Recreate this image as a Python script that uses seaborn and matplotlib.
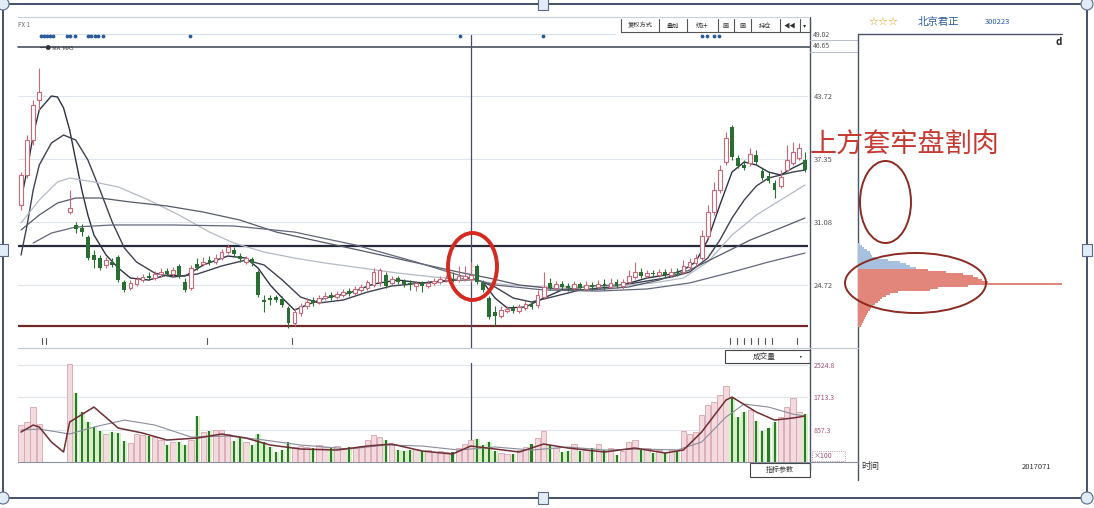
import numpy as np
import pandas as pd
import matplotlib
matplotlib.use("Agg")
import matplotlib.pyplot as plt
from matplotlib.patches import Ellipse, Rectangle
import seaborn as sns

nan = np.nan

# ---- daily candles (price) ----
opens = [32.76, 35.77, 39.29, 43.31, nan, nan, nan, nan, 32.05, 30.75,
         30.45, 29.54, 27.73, 27.43, 26.73, 27.03, 27.53, 25.02, 24.42, 24.82,
         25.22, 25.62, 25.42, 25.82, 26.12, 25.82, 26.63, 25.02, 24.42, 26.83,
         26.83, 27.23, 27.03, 27.43, 28.03, 28.23, 27.63, 27.03, 27.33, 26.02,
         23.21, 23.41, 23.51, 23.31, 22.41, 20.90, 21.90, 22.61, 23.21, 23.01,
         23.41, 23.71, 23.51, 23.71, 24.11, 23.91, 24.22, 24.42, 24.72, 25.02,
         25.72, 24.92, 25.42, 25.12, 24.92, 24.62, 24.92, 24.62, 24.92, 25.02,
         25.22, 25.32, 25.22, 25.32, 25.32, 26.63, 24.92, 23.41, 22.00, 21.60,
         22.10, 22.41, 22.10, 22.41, 22.81, 22.71, 23.51, 24.92, 24.42, 24.82,
         24.62, 24.42, 24.82, 24.32, 24.72, 24.52, 24.82, 24.52, 25.02, 24.62,
         25.02, 25.52, 26.02, 25.62, 25.92, 25.72, 26.02, 25.72, 26.02, 26.02,
         26.53, 26.93, 27.43, 29.64, 32.05, 34.26, 37.08, 40.60, 37.48, 36.78,
         36.98, 37.78, 36.17, 35.67, 34.97, 34.67, 36.27, 36.98, 37.48, 37.28]
closes = [35.77, 39.29, 42.81, 44.11, nan, nan, nan, nan, 32.46, 30.35,
          30.04, 27.43, 27.23, 26.43, 27.23, 26.73, 25.22, 24.22, 24.92, 25.32,
          25.52, 25.42, 25.82, 26.02, 25.82, 26.22, 25.62, 24.22, 26.43, 26.43,
          27.03, 26.93, 27.43, 28.03, 28.54, 27.83, 27.33, 27.43, 26.93, 23.71,
          23.01, 23.21, 23.21, 22.71, 20.90, 22.00, 22.61, 23.01, 22.91, 23.41,
          23.61, 23.41, 23.81, 24.01, 23.81, 24.32, 24.52, 25.02, 26.02, 26.22,
          24.62, 25.32, 25.02, 24.82, 24.72, 24.92, 24.62, 24.92, 25.12, 25.32,
          25.42, 25.22, 25.62, 25.62, 25.72, 25.02, 24.22, 21.50, 21.60, 22.20,
          22.31, 22.10, 22.51, 22.81, 22.51, 23.71, 24.52, 24.42, 24.82, 24.52,
          24.42, 24.82, 24.42, 24.72, 24.52, 24.82, 24.62, 24.92, 24.62, 25.02,
          25.62, 26.02, 25.62, 25.92, 25.82, 26.02, 25.72, 26.02, 25.92, 26.63,
          27.03, 27.43, 29.64, 32.05, 34.26, 36.27, 39.49, 37.58, 36.68, 36.48,
          37.88, 37.08, 35.47, 35.17, 34.26, 35.57, 37.28, 38.08, 38.49, 36.27]
highs = [36.07, 39.79, 43.31, 46.53, nan, nan, nan, nan, 34.26, 31.05,
         30.85, 29.74, 28.23, 27.73, 27.53, 27.43, 27.73, 25.22, 25.22, 25.62,
         25.82, 26.02, 26.12, 26.43, 26.43, 26.53, 26.83, 25.42, 26.73, 27.43,
         27.53, 27.63, 27.83, 28.33, 28.84, 28.54, 27.93, 27.63, 27.53, 26.22,
         23.71, 23.71, 23.71, 23.61, 22.61, 22.41, 22.91, 23.41, 23.51, 23.71,
         24.01, 24.01, 24.11, 24.32, 24.42, 24.62, 24.82, 25.22, 26.43, 26.43,
         26.02, 25.62, 25.62, 25.32, 25.22, 25.12, 25.12, 25.22, 25.42, 25.62,
         25.72, 26.02, 26.63, 26.63, 27.03, 26.83, 25.22, 23.61, 22.61, 22.61,
         22.61, 22.71, 22.81, 23.11, 23.11, 24.22, 26.02, 25.42, 25.12, 25.12,
         24.92, 25.12, 25.02, 25.12, 25.02, 25.22, 25.32, 25.42, 25.32, 25.32,
         26.22, 27.03, 26.43, 26.22, 26.22, 26.32, 26.32, 26.43, 26.43, 27.23,
         27.43, 27.83, 30.25, 32.76, 35.07, 36.78, 40.09, 40.80, 37.78, 37.28,
         38.49, 38.29, 36.48, 36.07, 35.27, 36.27, 38.79, 39.09, 38.99, 38.08]
lows = [32.25, 35.47, 38.79, 42.31, nan, nan, nan, nan, 31.85, 29.94,
        29.64, 27.23, 26.43, 26.22, 26.43, 26.53, 25.02, 24.01, 24.22, 24.62,
        25.02, 25.22, 25.22, 25.52, 25.62, 25.62, 25.42, 24.01, 24.22, 26.22,
        26.63, 26.73, 26.83, 27.23, 27.83, 27.63, 27.03, 26.83, 26.63, 23.51,
        22.00, 22.71, 23.01, 22.51, 20.40, 20.60, 21.60, 22.31, 22.61, 22.81,
        23.21, 23.21, 23.31, 23.51, 23.61, 23.71, 24.01, 24.22, 24.52, 24.62,
        24.42, 24.72, 24.82, 24.52, 24.22, 24.11, 24.01, 24.42, 24.72, 24.82,
        25.02, 25.02, 25.02, 25.12, 25.02, 24.82, 24.01, 21.30, 20.60, 21.40,
        21.90, 21.90, 21.90, 22.20, 22.31, 22.41, 23.31, 24.22, 24.22, 24.32,
        24.11, 24.22, 24.22, 24.11, 24.22, 24.32, 24.22, 24.32, 24.42, 24.32,
        24.82, 25.32, 25.42, 25.42, 25.52, 25.52, 25.52, 25.52, 25.62, 25.82,
        26.22, 26.63, 27.23, 29.44, 31.75, 33.96, 36.78, 37.28, 36.48, 36.27,
        36.68, 36.88, 35.27, 34.97, 33.46, 34.47, 36.07, 36.78, 37.28, 36.07]
volumes = [962, 1040, 1430, 988, 0, 0, 0, 0, 2548, 1794,
           1300, 1040, 910, 806, 728, 780, 754, 546, 494, 728,
           702, 676, 650, 572, 442, 520, 520, 442, 572, 1196,
           780, 806, 832, 832, 728, 546, 624, 520, 442, 728,
           520, 390, 260, 312, 520, 390, 416, 390, 364, 442,
           390, 364, 416, 338, 390, 364, 416, 572, 702, 650,
           572, 468, 312, 286, 312, 338, 286, 312, 260, 286,
           260, 260, 364, 468, 572, 598, 442, 520, 286, 234,
           208, 208, 312, 390, 468, 624, 806, 442, 364, 260,
           286, 468, 286, 312, 364, 468, 312, 364, 182, 286,
           520, 572, 312, 364, 234, 312, 234, 338, 286, 806,
           728, 780, 1222, 1482, 1560, 1742, 1976, 1690, 1170, 1300,
           1352, 1066, 806, 884, 1040, 1170, 1430, 1664, 1300, 1248]

# ---- moving averages (day index, value) ----
ma_a_day = [0, 1, 2, 3, 5, 6, 7, 8, 9, 10, 11, 12, 14, 16, 18, 21, 24, 27, 30, 34, 37, 39, 41, 43,
            45, 47, 50, 54, 58, 62, 66, 70, 74, 76, 78, 80, 83, 86, 89, 94, 99, 103, 107, 109,
            111, 113, 115, 117, 119, 121, 123, 125, 127, 129]
ma_a = [33.26, 36.27, 39.79, 42.31, 43.71, 43.61, 42.51, 40.30, 37.28, 34.26, 31.75, 29.74,
        27.73, 26.43, 25.42, 25.22, 25.72, 25.62, 26.73, 27.63, 27.43, 26.43, 24.72, 23.41,
        22.20, 22.71, 23.41, 23.91, 24.82, 25.22, 24.92, 25.12, 25.42, 25.02, 23.41, 22.41,
        22.51, 23.41, 24.22, 24.62, 24.72, 25.42, 25.82, 26.22, 27.03, 29.24, 32.76, 36.07,
        37.08, 36.78, 36.07, 35.77, 36.48, 37.08]
ma_b_day = [0, 1, 2, 3, 5, 7, 9, 11, 13, 15, 17, 19, 22, 25, 29, 33, 37, 40, 43, 46, 49, 53, 57,
            61, 66, 71, 75, 78, 81, 84, 88, 92, 97, 102, 107, 110, 113, 115, 117, 119, 121, 123,
            125, 127, 129]
ma_b = [27.73, 30.75, 34.26, 36.78, 38.99, 39.79, 39.29, 37.28, 34.26, 31.05, 28.44, 27.03,
        25.92, 25.52, 25.82, 26.63, 27.23, 26.73, 25.22, 23.51, 22.91, 23.21, 24.01, 24.62,
        24.92, 25.22, 25.22, 24.52, 23.41, 23.01, 23.61, 24.22, 24.52, 25.02, 25.52, 26.02,
        27.43, 29.24, 31.45, 33.26, 34.67, 35.47, 35.77, 36.07, 36.27]
ma_c_day = [0, 3, 6, 8, 12, 16, 21, 26, 31, 35, 40, 45, 50, 56, 62, 68, 74, 80, 86, 92, 98,
            104, 109, 113, 117, 121, 125, 129]
ma_c = [30.95, 33.26, 35.07, 35.47, 35.07, 34.57, 33.26, 31.75, 30.04, 28.94, 28.03, 27.43,
        26.93, 26.43, 25.92, 25.52, 25.22, 24.72, 24.52, 24.52, 24.62, 24.92, 25.42, 27.03,
        29.74, 31.75, 33.26, 34.77]
ma_d_day = [0, 3, 6, 9, 13, 18, 24, 30, 36, 42, 48, 54, 60, 66, 72, 77, 82, 88, 94, 100, 105,
            110, 115, 120, 125, 129]
ma_d = [30.25, 31.75, 32.96, 33.46, 33.46, 33.06, 32.66, 32.05, 31.25, 30.04, 29.24, 28.44,
        27.63, 26.83, 26.02, 25.42, 24.72, 24.32, 24.22, 24.52, 25.22, 26.22, 27.73, 29.24,
        30.45, 31.45]
ma_e_day = [2, 5, 9, 15, 25, 35, 45, 55, 65, 72, 78, 86, 95, 103, 110, 117, 123, 129]
ma_e = [28.94, 29.94, 30.55, 30.75, 30.75, 30.65, 30.04, 28.74, 27.03, 25.72, 24.72, 24.22,
        24.11, 24.32, 24.92, 26.02, 27.03, 27.93]

# volume moving averages
vma5_day = [0, 2, 3, 5, 7, 8, 12, 16, 20, 24, 29, 33, 37, 41, 46, 52, 57, 61, 66, 71, 74, 78,
            82, 86, 90, 96, 101, 106, 109, 112, 116, 117, 121, 124, 127, 129]
vma5 = [780, 962, 910, 520, 260, 1040, 1430, 884, 754, 572, 624, 728, 624, 442, 338, 312, 416,
        468, 286, 208, 416, 338, 260, 468, 364, 260, 364, 234, 312, 780, 1612, 1690, 1300,
        1092, 1144, 1196]
vma10_day = [0, 3, 8, 12, 17, 22, 28, 34, 40, 46, 54, 60, 66, 72, 78, 84, 90, 96, 102, 108,
             112, 116, 119, 123, 127, 129]
vma10 = [832, 858, 728, 910, 1092, 962, 650, 676, 572, 442, 338, 442, 416, 312, 390, 312, 390,
         312, 338, 312, 520, 1170, 1508, 1430, 1248, 1196]

# chip distribution at the cursor day
chip_price = [28.8, 28.6, 28.4, 28.2, 28.0, 27.8, 27.6, 27.4, 27.2, 27.0, 26.8, 26.6, 26.4,
              26.2, 26.0, 25.8, 25.6, 25.4, 25.2, 25.0, 24.8, 24.6, 24.4, 24.2, 24.0, 23.8,
              23.6, 23.4, 23.2, 23.0, 22.8, 22.6, 22.4, 22.2, 22.0, 21.8, 21.6, 21.4, 21.2,
              21.0, 20.8, 20.6]
chip_amount = [2, 4, 6, 9, 12, 13, 14, 18, 30, 42, 48, 52, 58,
               70, 88, 105, 115, 120, 124, 130, 204, 110, 80, 72, 40, 32,
               28, 24, 22, 20, 17, 15, 13, 12, 10, 9, 8, 7, 6,
               5, 4, 3]

price_ticks = [24.72, 31.08, 37.35, 43.72]
vol_ticks = [833, 1692, 2524.8]
vol_labels = ["857.3", "1713.3", "2524.8"]
resist_line = 28.64
support_line = 20.60
cursor_day = 74
cost_split = 26.3

# ---------------------------------------------------------------
sns.set_theme(style="white")
plt.rcParams['font.family'] = ['Noto Sans CJK SC', 'DejaVu Sans']

W, H = 1094, 508
fig = plt.figure(figsize=(W / 100, H / 100), dpi=100, facecolor="white")


def box(x0, y0, x1, y1):
    return [x0 / W, 1 - y1 / H, (x1 - x0) / W, (y1 - y0) / H]


def pix_axes(z):
    a = fig.add_axes([0, 0, 1, 1], zorder=z)
    a.set_xlim(0, W)
    a.set_ylim(H, 0)
    a.axis("off")
    a.patch.set_alpha(0)
    return a


UP = "#c9687a"
DN = "#2a6e34"
LINE = "#4a5468"
GRIDC = "#dfe5ec"

under = pix_axes(0)
# outer frame with handles
under.add_patch(Rectangle((3, 4), 1084, 494, fill=False, ec="#44506a", lw=1.4))
for hx, hy in [(543, 4), (543, 498), (3, 250), (1087, 250)]:
    under.add_patch(Rectangle((hx - 5, hy - 6), 10, 12, fc="#e2ecf7", ec="#5a6a88", lw=0.8, zorder=3))
for hx, hy in [(3, 4), (1087, 4), (3, 498), (1087, 498)]:
    under.add_patch(Ellipse((hx, hy), 12, 12, fc="#e2ecf7", ec="#5a6a88", lw=0.8, zorder=3))

under.plot([18, 808], [17, 17], color="#c8d0da", lw=0.8)
under.plot([40, 615], [34, 34], color="#d6e2ee", lw=0.8)
under.plot([18, 810], [47, 47], color="#4a5060", lw=1.2)
under.text(18, 25, "FX 1", fontsize=4.5, color="#666", va="center")
under.text(40, 49, "━● MA  MA5", fontsize=4, color="#333", va="center")
dot_x = [41, 44, 47, 50, 53, 67, 70, 75, 88, 91, 95, 98, 103, 190, 460, 543, 702, 707, 714, 719]
under.scatter(dot_x, [36] * len(dot_x), s=3, color="#2a5a9a", zorder=3)

# toolbar
tb = [621, 659, 687, 718, 734, 751, 780, 800, 810]
tb_text = ["复权方式", "叠加", "统计", "画", "画", "持仓", "◀◀", "▾"]
under.plot([621, 810], [32, 32], color="#555", lw=0.8)
for xs in tb:
    under.plot([xs, xs], [19, 32], color="#555", lw=0.8)
for a, b, t in zip(tb[:-1], tb[1:], tb_text):
    under.text((a + b) / 2, 25.5, t, fontsize=4.5, ha="center", va="center", color="#333")

# price scale column & chip panel frame
under.plot([810, 810], [17, 470], color=LINE, lw=1.0)
under.plot([810, 858], [40, 40], color="#b8c0cc", lw=0.7)
under.plot([810, 858], [52, 52], color="#b8c0cc", lw=0.7)
under.text(813, 35, "49.02", fontsize=5, color="#555", va="center")
under.text(813, 46, "46.65", fontsize=5, color="#555", va="center")
under.plot([858, 1062], [34, 34], color=LINE, lw=1.0)
under.plot([858, 858], [34, 480], color=LINE, lw=1.0)
under.text(1056, 42, "d", fontsize=7, color="#222", va="center", fontweight="bold")
under.text(868, 22, "☆☆☆", fontsize=8, color="#d4a020", va="center", family=["DejaVu Sans"])
under.text(918, 22, "北京君正", fontsize=7.5, color="#2a5aa0", va="center")
under.text(985, 22, "300223", fontsize=5.5, color="#2a5aa0", va="center")

# separators around volume panel
under.plot([18, 858], [348, 348], color="#c0c8d0", lw=0.8)
under.plot([18, 858], [462, 462], color="#8890a0", lw=0.8)
for tx in [42, 46, 207, 292, 730, 737, 744, 751, 758, 765, 772, 797]:
    under.plot([tx, tx], [338, 344], color="#555", lw=0.8)
under.add_patch(Rectangle((725, 350), 85, 13, fill=False, ec="#444", lw=0.8))
under.text(764, 356.5, "成交量", fontsize=5.5, ha="center", va="center", color="#333")
under.text(801, 356.5, "▪", fontsize=4, ha="center", va="center", color="#333")
under.add_patch(Rectangle((750, 463), 60, 14, fill=False, ec="#444", lw=0.8))
under.text(780, 470, "指标参数", fontsize=5, ha="center", va="center", color="#333")
under.add_patch(Rectangle((812, 451), 33, 10, fill=False, ec="#b07090", lw=0.6, ls=":"))
under.text(814, 456, "×100", fontsize=5, color="#a0507a", va="center")
under.text(861, 467, "时间", fontsize=6.5, color="#333", va="center")
under.text(1022, 467, "2017071", fontsize=5.5, color="#333", va="center")

# ---- price panel ----
N = len(closes)
df = pd.DataFrame({"day": np.arange(N), "open": opens, "high": highs, "low": lows,
                   "close": closes, "vol": volumes})
k = df.dropna()
up = k[k.close >= k.open]
dn = k[k.close < k.open]

ax = fig.add_axes(box(18, 35, 808, 348), zorder=1)
ax.patch.set_alpha(0)
ax.set_xlim(-0.5, N - 0.5)
ax.set_ylim(18.39, 49.84)
ax.set_yticks(price_ticks)
ax.set_yticklabels([f"{t:.2f}" for t in price_ticks])
ax.yaxis.tick_right()
ax.set_xticks([])
ax.tick_params(length=0, labelsize=5.5, colors="#555", pad=4)
ax.grid(axis="y", color=GRIDC, lw=0.8)
for s in ax.spines.values():
    s.set_visible(False)

ax.axhline(resist_line, color="#262b3a", lw=1.6, zorder=2)
ax.axhline(support_line, color="#6e2a2a", lw=1.6, zorder=2)
ax.axvline(cursor_day, color="#4a4a6a", lw=0.9, zorder=2)

ma_styles = [(ma_a_day, ma_a, "#2e3140", 1.0), (ma_b_day, ma_b, "#3e4150", 1.0),
             (ma_c_day, ma_c, "#b4bac6", 0.9), (ma_d_day, ma_d, "#555a68", 0.9),
             (ma_e_day, ma_e, "#62677a", 0.9)]
for d, v, c, w in ma_styles:
    sns.lineplot(x=d, y=v, ax=ax, color=c, lw=w, legend=False, zorder=3)

ax.vlines(up.day, up.low, up.high, color=UP, lw=0.8, zorder=4)
ax.bar(up.day, (up.close - up.open).clip(lower=0.08), bottom=up.open, width=0.62,
       facecolor="white", edgecolor=UP, lw=0.8, zorder=5)
ax.vlines(dn.day, dn.low, dn.high, color=DN, lw=0.8, zorder=4)
ax.bar(dn.day, (dn.open - dn.close).clip(lower=0.08), bottom=dn.close, width=0.62,
       color=DN, lw=0, zorder=5)
ax.set_ylabel("")

# ---- volume panel ----
vx = fig.add_axes(box(18, 352, 808, 462), zorder=1)
vx.patch.set_alpha(0)
vx.set_xlim(-0.5, N - 0.5)
vx.set_ylim(0, 2863)
vx.set_yticks(vol_ticks)
vx.set_yticklabels(vol_labels)
vx.yaxis.tick_right()
vx.set_xticks([])
vx.tick_params(length=0, labelsize=5, colors="#a0507a", pad=4)
vx.grid(axis="y", color=GRIDC, lw=0.8)
for s in vx.spines.values():
    s.set_visible(False)
vx.axvline(cursor_day, ymax=0.9, color="#4a4a6a", lw=0.9, zorder=2)

vup = up[up.vol > 0]
vdn = dn[dn.vol > 0]
vx.bar(vup.day, vup.vol, width=0.9, facecolor="#f2dade", edgecolor="#d8a4ae", lw=0.6, zorder=3)
vx.bar(vdn.day, vdn.vol, width=0.9, facecolor="#d6efc4", lw=0, zorder=3)
vx.bar(vdn.day, vdn.vol, width=0.35, facecolor="#2a7a2e", lw=0, zorder=4)
sns.lineplot(x=vma10_day, y=vma10, ax=vx, color="#8a8c9a", lw=0.8, legend=False, zorder=5)
sns.lineplot(x=vma5_day, y=vma5, ax=vx, color="#6e2e34", lw=1.1, legend=False, zorder=6)
vx.set_ylabel("")

# ---- chip distribution ----
cx = fig.add_axes(box(858, 35, 1062, 348), zorder=1)
cx.patch.set_alpha(0)
cx.set_ylim(18.39, 49.84)
cx.set_xlim(0, 204)
cx.axis("off")
chip_col = ["#a6c0de" if p > cost_split else "#e2857b" for p in chip_price]
cx.barh(chip_price, chip_amount, height=0.2, color=chip_col, lw=0)

# ---- annotations on top ----
over = pix_axes(5)
over.add_patch(Ellipse((472.5, 266.5), 49, 67, fill=False, ec="#d42a20", lw=2.8))
over.add_patch(Ellipse((885.5, 202), 51, 82, fill=False, ec="#8a2a22", lw=1.4))
over.add_patch(Ellipse((915.5, 283), 141, 60, fill=False, ec="#8a2a22", lw=1.4))
over.text(810, 144, "上方套牢盘割肉", fontsize=19.5, color="#c63a34", va="center", ha="left")

fig.savefig("out.png", dpi=100, facecolor="white")
